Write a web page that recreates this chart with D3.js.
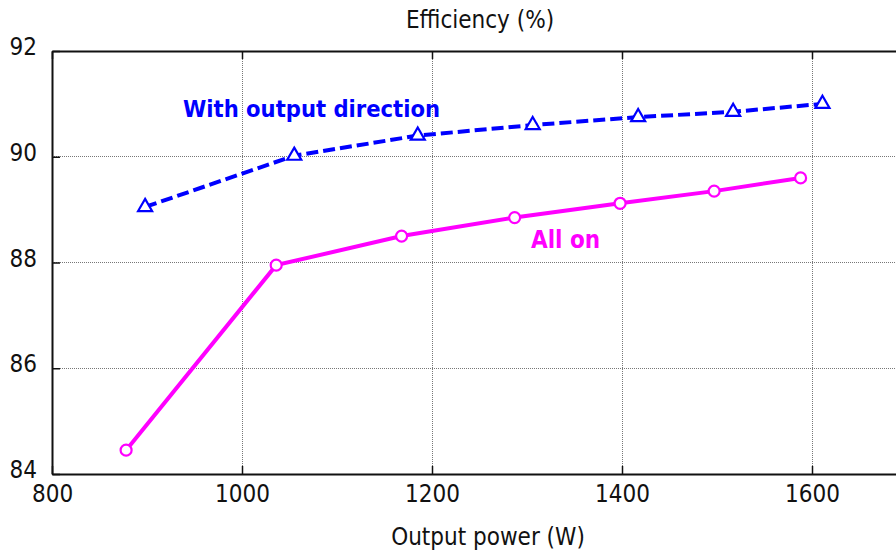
<!DOCTYPE html>
<html>
<head>
<meta charset="utf-8">
<script src="https://cdn.jsdelivr.net/npm/d3@7"></script>
<style>
  html, body { margin: 0; padding: 0; background: #fff; }
  svg { display: block; }
  text { font-family: "DejaVu Sans Condensed", "DejaVu Sans", sans-serif; }
</style>
</head>
<body>
<svg id="chart" width="896" height="553"></svg>
<script>
// Output power (W) and efficiency (%) for the two operating modes
const directionPower = [898, 1055, 1185, 1306, 1417, 1517, 1611];
const directionEff   = [89.05, 90.02, 90.4, 90.6, 90.75, 90.85, 91.0];
const allOnPower     = [878, 1036, 1168, 1287, 1398, 1497, 1588];
const allOnEff       = [84.45, 87.95, 88.5, 88.85, 89.12, 89.35, 89.6];
const xTicks = [800, 1000, 1200, 1400, 1600];
const yTicks = [84, 86, 88, 90, 92];

const svg = d3.select("#chart");
const plotLeft = 52, plotTop = 51, plotBottom = 474;

const x = d3.scaleLinear().domain([800, 1700]).range([plotLeft, plotLeft + 900 * 0.95]);
const y = d3.scaleLinear().domain([84, 92]).range([plotBottom, plotTop]);

// dotted grid
const grid = svg.append("g").attr("stroke", "#777").attr("stroke-width", 1)
  .attr("stroke-dasharray", "1,1").attr("shape-rendering", "crispEdges");
xTicks.slice(1).forEach(v => grid.append("line")
  .attr("x1", x(v)).attr("x2", x(v)).attr("y1", plotTop).attr("y2", plotBottom));
yTicks.slice(1, -1).forEach(v => grid.append("line")
  .attr("x1", plotLeft).attr("x2", 896).attr("y1", y(v)).attr("y2", y(v)));

// axes with inward ticks
const fmt = d3.format("d");
const xAxisB = d3.axisBottom(x).tickValues(xTicks).tickFormat(fmt).tickSizeInner(-8).tickSizeOuter(0).tickPadding(11);
const xAxisT = d3.axisTop(x).tickValues(xTicks).tickSizeInner(-8).tickSizeOuter(0).tickFormat("");
const yAxisL = d3.axisLeft(y).tickValues(yTicks).tickFormat(fmt).tickSizeInner(-8).tickSizeOuter(0).tickPadding(15);

function styleAxis(g) {
  g.select(".domain").attr("stroke", "#111").attr("stroke-width", 2);
  g.selectAll(".tick line").attr("stroke", "#111").attr("stroke-width", 1.5);
  g.selectAll(".tick text").attr("fill", "#111").attr("font-size", 24)
    .attr("font-family", "'DejaVu Sans Condensed', 'DejaVu Sans', sans-serif");
}
svg.append("g").attr("transform", `translate(0,${plotBottom})`).call(xAxisB).call(styleAxis);
svg.append("g").attr("transform", `translate(0,${plotTop})`).call(xAxisT).call(styleAxis);
const gy = svg.append("g").attr("transform", `translate(${plotLeft},0)`).call(yAxisL).call(styleAxis);
gy.selectAll(".tick text").attr("dy", "0.15em");

// axis titles
svg.append("text").attr("x", 480).attr("y", 28).attr("text-anchor", "middle")
  .attr("font-size", 24).attr("fill", "#111").text("Efficiency (%)");
svg.append("text").attr("x", 488).attr("y", 545).attr("text-anchor", "middle")
  .attr("font-size", 24).attr("fill", "#111").text("Output power (W)");

// series
const line = d3.line().x(d => x(d[0])).y(d => y(d[1]));
const dirData = directionPower.map((p, i) => [p, directionEff[i]]);
const allData = allOnPower.map((p, i) => [p, allOnEff[i]]);

svg.append("path").datum(allData).attr("d", line).attr("fill", "none")
  .attr("stroke", "#ff00ff").attr("stroke-width", 4);
svg.append("g").selectAll("circle").data(allData).join("circle")
  .attr("cx", d => x(d[0])).attr("cy", d => y(d[1])).attr("r", 5.5)
  .attr("fill", "#fff").attr("stroke", "#ff00ff").attr("stroke-width", 2.2);

svg.append("path").datum(dirData).attr("d", line).attr("fill", "none")
  .attr("stroke", "#0000ff").attr("stroke-width", 4).attr("stroke-dasharray", "12,5");
const tri = d3.symbol().type(d3.symbolTriangle).size(85);
svg.append("g").selectAll("path").data(dirData).join("path")
  .attr("transform", d => `translate(${x(d[0])},${y(d[1])})`).attr("d", tri)
  .attr("fill", "#fff").attr("stroke", "#0000ff").attr("stroke-width", 2.2);

// series labels
svg.append("text").attr("x", 183).attr("y", 117).attr("font-size", 23.5).attr("font-weight", "bold")
  .attr("fill", "#0000ff").text("With output direction");
svg.append("text").attr("x", 531).attr("y", 248).attr("font-size", 24).attr("font-weight", "bold")
  .attr("fill", "#ff00ff").text("All on");
</script>
</body>
</html>
